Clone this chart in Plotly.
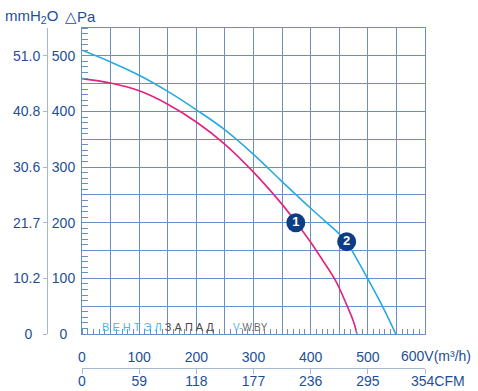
import plotly.graph_objects as go

# ---- data ----
flow_1 = [0, 50, 100, 150, 200, 250, 300, 350, 375, 400, 420, 444, 464, 475, 481]
pressure_1 = [459, 451, 437, 413, 381, 341, 291, 233, 200, 165, 134, 95, 50, 22, 0]

flow_2 = [0, 50, 100, 150, 200, 250, 300, 350, 400, 425, 450, 465, 480, 500, 525, 549]
pressure_2 = [510, 489, 465, 436, 403, 367, 323, 274, 226, 203, 180, 162, 136, 99, 51, 0]

badge_flow = [374, 463]
badge_pressure = [200, 166]
badge_text = ["1", "2"]

flow_ticks = [0, 100, 200, 300, 400, 500, 600]
flow_labels = ["0", "100", "200", "300", "400", "500", "600"]
cfm_labels = ["0", "59", "118", "177", "236", "295", "354"]
pa_ticks = [0, 100, 200, 300, 400, 500]
pa_labels = ["0", "100", "200", "300", "400", "500"]
mm_labels = ["0", "10.2", "21.7", "30.6", "40.8", "51.0"]

# ---- layout helpers (pixel geometry) ----
W, H = 478, 391
ML, MR, MT, MB = 10, 10, 28, 10
PW, PH = W - ML - MR, H - MT - MB
def px(x):
    return (x - ML) / PW
def py(y):
    return (H - MB - y) / PH

TXT = "#1e4f96"
GRID = "#6a8fc6"
AXL = "#a6b8d0"
FONT = "Arial, Liberation Sans, sans-serif"
FIG = "\u2007"

fig = go.Figure()
fig.add_trace(go.Scatter(x=flow_1, y=pressure_1, mode="lines", line=dict(color="#e3217f", width=1.6, shape="spline", smoothing=1.0), hoverinfo="skip"))
fig.add_trace(go.Scatter(x=flow_2, y=pressure_2, mode="lines", line=dict(color="#27aae1", width=1.6, shape="spline", smoothing=1.0), hoverinfo="skip"))
fig.add_trace(go.Scatter(x=badge_flow, y=badge_pressure, mode="markers+text", text=badge_text,
                         texttemplate="<b>%{text}</b>", textposition="middle center",
                         textfont=dict(color="white", size=13, family=FONT),
                         marker=dict(size=19, color="#0c3d85"), hoverinfo="skip"))
# anchor traces for the secondary axes
fig.add_trace(go.Scatter(x=[0], y=[0], xaxis="x2", yaxis="y", mode="lines", line=dict(width=0), hoverinfo="skip"))
fig.add_trace(go.Scatter(x=[0], y=[0], xaxis="x", yaxis="y2", mode="lines", line=dict(width=0), hoverinfo="skip"))

grid_x = list(range(0, 601, 50))
grid_x_text = []
for v in grid_x:
    if v in flow_ticks and v != 600:
        grid_x_text.append(flow_labels[flow_ticks.index(v)])
    else:
        grid_x_text.append("")
grid_y = list(range(0, 551, 50))
grid_y_text = []
for v in grid_y:
    if v in pa_ticks:
        t = pa_labels[pa_ticks.index(v)]
        grid_y_text.append(t + FIG if len(t) == 1 else t)
    else:
        grid_y_text.append("")

xdom = [px(82), px(425)]
ydom = [py(334), 1]

fig.update_layout(
    width=W, height=H,
    margin=dict(l=ML, r=MR, t=MT, b=MB, autoexpand=False),
    paper_bgcolor="white", plot_bgcolor="white",
    showlegend=False,
    font=dict(family=FONT, color=TXT, size=14),
    xaxis=dict(domain=xdom, range=[0, 600], tickvals=grid_x, ticktext=grid_x_text,
               showgrid=True, gridcolor=GRID, gridwidth=1, zeroline=False,
               showline=True, linecolor=GRID, mirror=True, automargin=False,
               ticks="", ticklabelstandoff=10, tickfont=dict(size=14, color=TXT),
               minor=dict(ticks="inside", dtick=10, ticklen=5, tickcolor=GRID, showgrid=False),
               anchor="y", fixedrange=True),
    xaxis2=dict(domain=xdom, range=[0, 600], overlaying="x", anchor="free", position=py(368),
                side="bottom", tickvals=flow_ticks, ticktext=cfm_labels[:-1] + [""], automargin=False,
                showgrid=False, zeroline=False, showline=True, linecolor=AXL,
                ticks="outside", ticklen=5, tickcolor=AXL, ticklabelstandoff=-5,
                tickfont=dict(size=14, color=TXT)),
    yaxis=dict(domain=ydom, range=[0, 550], tickvals=grid_y, ticktext=grid_y_text,
               showgrid=True, gridcolor=GRID, gridwidth=1, zeroline=False,
               showline=True, linecolor=GRID, mirror=True, automargin=False,
               ticks="", ticklabelstandoff=3, tickfont=dict(size=14, color=TXT),
               minor=dict(ticks="inside", dtick=10, ticklen=6, tickcolor=GRID, showgrid=False),
               anchor="x", fixedrange=True),
    yaxis2=dict(range=[0, 550], overlaying="y", anchor="free", position=px(47), side="left",
                tickvals=pa_ticks, ticktext=[(t + FIG if len(t) == 1 else t) for t in mm_labels],
                showgrid=False, zeroline=False, showline=True, linecolor=AXL, automargin=False,
                ticks="outside", ticklen=4, tickcolor=AXL, tickfont=dict(size=14, color=TXT)),
)

ann = []
ann.append(dict(text="mmH<sub>2</sub>O", x=px(3), y=py(16), xref="paper", yref="paper",
                xanchor="left", yanchor="middle", showarrow=False, font=dict(size=15, color=TXT)))
ann.append(dict(text="\u25b3Pa", x=px(63), y=py(16), xref="paper", yref="paper",
                xanchor="left", yanchor="middle", showarrow=False, font=dict(size=15, color=TXT)))
ann.append(dict(text=flow_labels[-1] + "V(m\u00b3/h)", x=px(399), y=py(356), xref="paper", yref="paper",
                xanchor="left", yanchor="middle", showarrow=False, font=dict(size=14, color=TXT)))
ann.append(dict(text=cfm_labels[-1] + "CFM", x=px(409), y=py(381), xref="paper", yref="paper",
                xanchor="left", yanchor="middle", showarrow=False, font=dict(size=14, color=TXT)))
ann.append(dict(text="<span style='color:#55b3ea'>В Е Н Т Э Л</span><span style='color:#4a4a4a'> З А П А Д</span>",
                x=px(100), y=py(327), xref="paper", yref="paper", xanchor="left", yanchor="middle",
                showarrow=False, font=dict(size=11)))
ann.append(dict(text="<span style='color:#55b3ea'>V-</span><span style='color:#6a6a6a'>W.BY</span>",
                x=px(231), y=py(327), xref="paper", yref="paper", xanchor="left", yanchor="middle",
                showarrow=False, font=dict(size=10)))
fig.update_layout(annotations=ann)

fig.write_html("out.html", config={"displayModeBar": False},
               post_script="document.body.style.margin='0';document.body.style.overflow='hidden';")
